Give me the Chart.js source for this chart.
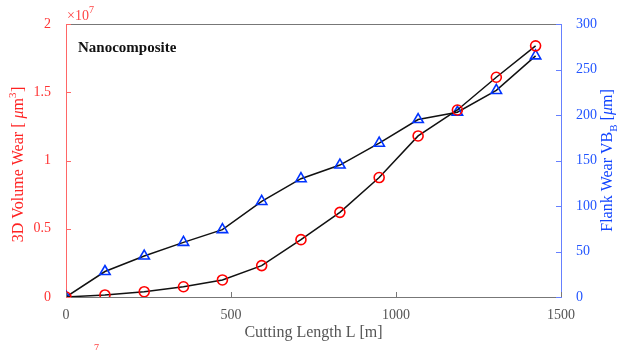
<!DOCTYPE html>
<html>
<head>
<meta charset="utf-8">
<script src="https://cdn.jsdelivr.net/npm/chart.js@4.4.1/dist/chart.umd.min.js"></script>
<style>
  body { margin: 0; background: #fff; }
  #wrap { width: 631px; height: 350px; }
</style>
</head>
<body>
<div id="wrap"><canvas id="chart" width="631" height="350"></canvas></div>
<script>
// cutting length [m]
var cuttingLength = [0, 118, 237, 356, 474, 593, 712, 830, 949, 1067, 1186, 1304, 1423];
// 3D volume wear [um^3]
var volumeWear = [0, 0.015e7, 0.039e7, 0.075e7, 0.125e7, 0.23e7, 0.42e7, 0.62e7, 0.875e7, 1.18e7, 1.37e7, 1.61e7, 1.84e7];
// flank wear VB_B [um]
var flankWear = [0, 28, 45, 60, 74, 105, 130, 145, 169, 195, 203, 227, 265];

var xTicks = [0, 500, 1000, 1500];
var leftTicks = [0, 0.5e7, 1e7, 1.5e7, 2e7];
var rightTicks = [0, 50, 100, 150, 200, 250, 300];

var RED = '#ff0000', BLUE = '#0033ff', GREY = '#555555';
var serif = '"Liberation Serif", "DejaVu Serif", serif';

function pts(xs, ys) {
  return xs.map(function (x, i) { return { x: x, y: ys[i] }; });
}

var decor = {
  id: 'decor',
  afterDraw: function (chart) {
    var c = chart.ctx, a = chart.chartArea;
    var sx = chart.scales.x, sy = chart.scales.y, sy1 = chart.scales.y1;
    c.save();
    // top box line
    c.strokeStyle = '#777'; c.lineWidth = 1;
    c.beginPath(); c.moveTo(a.left, a.top + 0.5); c.lineTo(a.right, a.top + 0.5); c.stroke();
    // inward ticks
    c.beginPath();
    xTicks.forEach(function (v) { var px = Math.round(sx.getPixelForValue(v)) + 0.5; c.moveTo(px, a.bottom); c.lineTo(px, a.bottom - 5); });
    c.stroke();
    c.strokeStyle = '#ff6666';
    c.beginPath();
    leftTicks.forEach(function (v) { var py = Math.round(sy.getPixelForValue(v)) + 0.5; c.moveTo(a.left, py); c.lineTo(a.left + 5, py); });
    c.stroke();
    c.strokeStyle = '#6680ff';
    c.beginPath();
    rightTicks.forEach(function (v) { var py = Math.round(sy1.getPixelForValue(v)) + 0.5; c.moveTo(a.right, py); c.lineTo(a.right - 5, py); });
    c.stroke();

    // exponent
    c.fillStyle = '#ff4444';
    c.font = '14px ' + serif; c.textBaseline = 'alphabetic'; c.textAlign = 'left';
    c.fillText('\u00d710', 67, 20);
    c.font = '10px ' + serif; c.fillText('7', 89, 13);

    // label inside plot
    c.fillStyle = '#111';
    c.font = 'bold 15px ' + serif;
    c.fillText('Nanocomposite', 78, 52);

    // x title
    c.fillStyle = GREY; c.textAlign = 'center';
    c.font = '16px ' + serif;
    c.fillText('Cutting Length L [m]', (a.left + a.right) / 2, 337);

    // left title (rotated)
    c.save();
    c.translate(23, (a.top + a.bottom) / 2 + 4);
    c.rotate(-Math.PI / 2);
    c.fillStyle = '#ff2222'; c.textAlign = 'left';
    var parts = [['3D Volume Wear [ ', '16px '], ['\u03bc', 'italic 16px '], ['m', '16px ']];
    var w = 0;
    c.font = '16px ' + serif; w += c.measureText('3D Volume Wear [ ').width;
    c.font = 'italic 16px ' + serif; w += c.measureText('\u03bc').width;
    c.font = '16px ' + serif; w += c.measureText('m').width + c.measureText(']').width + 6;
    var x = -w / 2;
    parts.forEach(function (p) { c.font = p[1] + serif; c.fillText(p[0], x, 0); x += c.measureText(p[0]).width; });
    c.font = '11px ' + serif; c.fillText('3', x, -7); x += 6;
    c.font = '16px ' + serif; c.fillText(']', x, 0);
    c.restore();

    // right title (rotated)
    c.save();
    c.translate(612, (a.top + a.bottom) / 2);
    c.rotate(-Math.PI / 2);
    c.fillStyle = '#1144ff'; c.textAlign = 'left';
    c.font = '16px ' + serif;
    var w1 = c.measureText('Flank Wear VB').width;
    c.font = '11px ' + serif; var wb = c.measureText('B').width + 4;
    c.font = '16px ' + serif; var w2 = c.measureText('[').width + c.measureText('m]').width;
    c.font = 'italic 16px ' + serif; w2 += c.measureText('\u03bc').width;
    x = -(w1 + wb + w2) / 2;
    c.font = '16px ' + serif; c.fillText('Flank Wear VB', x, 0); x += w1;
    c.font = '11px ' + serif; c.fillText('B', x, 5); x += wb;
    c.font = '16px ' + serif; c.fillText('[', x, 0); x += c.measureText('[').width;
    c.font = 'italic 16px ' + serif; c.fillText('\u03bc', x, 0); x += c.measureText('\u03bc').width;
    c.font = '16px ' + serif; c.fillText('m]', x, 0);
    c.restore();

    // clipped exponent fragment at bottom
    c.fillStyle = '#ff4444'; c.textAlign = 'left';
    c.font = '10px ' + serif; c.fillText('7', 94, 351);
    c.restore();
  }
};

window.onload = function () {
  var config = {
    type: 'line',
    data: {
      datasets: [
        {
          label: 'Volume wear',
          data: pts(cuttingLength, volumeWear),
          yAxisID: 'y',
          borderColor: '#111',
          borderWidth: 1.5,
          pointStyle: 'circle',
          pointRadius: 5,
          pointBorderWidth: 1.6,
          pointBorderColor: RED,
          pointBackgroundColor: 'rgba(255,255,255,0)',
          tension: 0
        },
        {
          label: 'Flank wear',
          data: pts(cuttingLength, flankWear),
          yAxisID: 'y1',
          borderColor: '#111',
          borderWidth: 1.5,
          pointStyle: 'triangle',
          pointRadius: 6,
          pointBorderWidth: 1.6,
          pointBorderColor: BLUE,
          pointBackgroundColor: 'rgba(255,255,255,0)',
          tension: 0
        }
      ]
    },
    options: {
      responsive: false,
      animation: false,
      layout: { padding: { top: 24, left: 0, right: 0, bottom: 0 } },
      plugins: { legend: { display: false }, tooltip: { enabled: false } },
      scales: {
        x: {
          type: 'linear', min: 0, max: 1500,
          afterBuildTicks: function (s) { s.ticks = xTicks.map(function (v) { return { value: v }; }); },
          afterFit: function (s) { s.height = 53; },
          grid: { display: false },
          border: { color: '#777', width: 1 },
          ticks: { color: GREY, font: { family: serif, size: 14 }, padding: 2, maxRotation: 0,
            callback: function (v) { return String(v); } }
        },
        y: {
          position: 'left', min: 0, max: 2e7,
          afterBuildTicks: function (s) { s.ticks = leftTicks.map(function (v) { return { value: v }; }); },
          afterFit: function (s) { s.width = 66; },
          grid: { display: false },
          border: { color: '#ff6666', width: 1 },
          ticks: { color: '#ff3333', font: { family: serif, size: 14 }, padding: 7,
            callback: function (v) { return String(v / 1e7); } }
        },
        y1: {
          position: 'right', min: 0, max: 300,
          afterBuildTicks: function (s) { s.ticks = rightTicks.map(function (v) { return { value: v }; }); },
          afterFit: function (s) { s.width = 70; },
          grid: { display: false },
          border: { color: '#6680ff', width: 1 },
          ticks: { color: '#2255ff', font: { family: serif, size: 14 }, padding: 7 }
        }
      }
    },
    plugins: [decor]
  };

  var ctx = document.getElementById('chart').getContext('2d');
  window.myChart = new Chart(ctx, config);
};
</script>
</body>
</html>
